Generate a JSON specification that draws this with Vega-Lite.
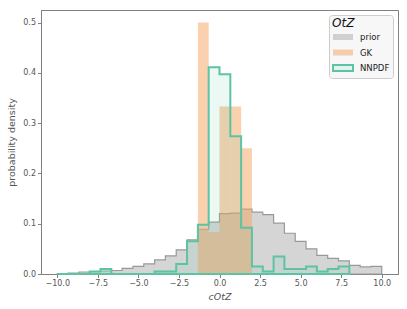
{
  "$schema": "https://vega.github.io/schema/vega-lite/v6.json",
  "width": 357,
  "height": 264,
  "autosize": {"type": "none"},
  "padding": {"left": 41, "top": 10, "right": 9, "bottom": 35},
  "config": {
    "font": "DejaVu Sans",
    "view": {"stroke": "#808080", "strokeWidth": 1},
    "axis": {
      "grid": false,
      "domainColor": "#808080",
      "tickColor": "#808080",
      "labelColor": "#555555",
      "titleColor": "#555555",
      "labelFontSize": 8,
      "titleFontSize": 9.5,
      "titleFontWeight": "normal",
      "tickSize": 3.5,
      "labelPadding": 2
    }
  },
  "data": {
    "values": [
      {"series": "prior", "lo": -10, "hi": -9.333, "density": 0.001},
      {"series": "prior", "lo": -9.333, "hi": -8.667, "density": 0.002},
      {"series": "prior", "lo": -8.667, "hi": -8, "density": 0.004},
      {"series": "prior", "lo": -8, "hi": -7.333, "density": 0.005},
      {"series": "prior", "lo": -7.333, "hi": -6.667, "density": 0.006},
      {"series": "prior", "lo": -6.667, "hi": -6, "density": 0.007},
      {"series": "prior", "lo": -6, "hi": -5.333, "density": 0.011},
      {"series": "prior", "lo": -5.333, "hi": -4.667, "density": 0.015},
      {"series": "prior", "lo": -4.667, "hi": -4, "density": 0.020},
      {"series": "prior", "lo": -4, "hi": -3.333, "density": 0.028},
      {"series": "prior", "lo": -3.333, "hi": -2.667, "density": 0.036},
      {"series": "prior", "lo": -2.667, "hi": -2, "density": 0.048},
      {"series": "prior", "lo": -2, "hi": -1.333, "density": 0.068},
      {"series": "prior", "lo": -1.333, "hi": -0.667, "density": 0.089},
      {"series": "prior", "lo": -0.667, "hi": 0, "density": 0.103},
      {"series": "prior", "lo": 0, "hi": 0.667, "density": 0.120},
      {"series": "prior", "lo": 0.667, "hi": 1.333, "density": 0.121},
      {"series": "prior", "lo": 1.333, "hi": 2, "density": 0.129},
      {"series": "prior", "lo": 2, "hi": 2.667, "density": 0.123},
      {"series": "prior", "lo": 2.667, "hi": 3.333, "density": 0.118},
      {"series": "prior", "lo": 3.333, "hi": 4, "density": 0.101},
      {"series": "prior", "lo": 4, "hi": 4.667, "density": 0.081},
      {"series": "prior", "lo": 4.667, "hi": 5.333, "density": 0.065},
      {"series": "prior", "lo": 5.333, "hi": 6, "density": 0.050},
      {"series": "prior", "lo": 6, "hi": 6.667, "density": 0.037},
      {"series": "prior", "lo": 6.667, "hi": 7.333, "density": 0.031},
      {"series": "prior", "lo": 7.333, "hi": 8, "density": 0.026},
      {"series": "prior", "lo": 8, "hi": 8.667, "density": 0.017},
      {"series": "prior", "lo": 8.667, "hi": 9.333, "density": 0.014},
      {"series": "prior", "lo": 9.333, "hi": 10, "density": 0.015},

      {"series": "GK", "lo": -1.333, "hi": -0.667, "density": 0.5},
      {"series": "GK", "lo": -0.667, "hi": 0, "density": 0.0833},
      {"series": "GK", "lo": 0, "hi": 0.667, "density": 0.3333},
      {"series": "GK", "lo": 0.667, "hi": 1.333, "density": 0.3333},
      {"series": "GK", "lo": 1.333, "hi": 2, "density": 0.25},

      {"series": "NNPDF", "lo": -10, "hi": -9.333, "density": 0},
      {"series": "NNPDF", "lo": -9.333, "hi": -8.667, "density": 0},
      {"series": "NNPDF", "lo": -8.667, "hi": -8, "density": 0},
      {"series": "NNPDF", "lo": -8, "hi": -7.333, "density": 0.005},
      {"series": "NNPDF", "lo": -7.333, "hi": -6.667, "density": 0.010},
      {"series": "NNPDF", "lo": -6.667, "hi": -6, "density": 0},
      {"series": "NNPDF", "lo": -6, "hi": -5.333, "density": 0},
      {"series": "NNPDF", "lo": -5.333, "hi": -4.667, "density": 0},
      {"series": "NNPDF", "lo": -4.667, "hi": -4, "density": 0},
      {"series": "NNPDF", "lo": -4, "hi": -3.333, "density": 0.005},
      {"series": "NNPDF", "lo": -3.333, "hi": -2.667, "density": 0.005},
      {"series": "NNPDF", "lo": -2.667, "hi": -2, "density": 0.020},
      {"series": "NNPDF", "lo": -2, "hi": -1.333, "density": 0.065},
      {"series": "NNPDF", "lo": -1.333, "hi": -0.667, "density": 0.098},
      {"series": "NNPDF", "lo": -0.667, "hi": 0, "density": 0.411},
      {"series": "NNPDF", "lo": 0, "hi": 0.667, "density": 0.397},
      {"series": "NNPDF", "lo": 0.667, "hi": 1.333, "density": 0.274},
      {"series": "NNPDF", "lo": 1.333, "hi": 2, "density": 0.092},
      {"series": "NNPDF", "lo": 2, "hi": 2.667, "density": 0.015},
      {"series": "NNPDF", "lo": 2.667, "hi": 3.333, "density": 0.005},
      {"series": "NNPDF", "lo": 3.333, "hi": 4, "density": 0.035},
      {"series": "NNPDF", "lo": 4, "hi": 4.667, "density": 0.010},
      {"series": "NNPDF", "lo": 4.667, "hi": 5.333, "density": 0.010},
      {"series": "NNPDF", "lo": 5.333, "hi": 6, "density": 0.015},
      {"series": "NNPDF", "lo": 6, "hi": 6.667, "density": 0.005},
      {"series": "NNPDF", "lo": 6.667, "hi": 7.333, "density": 0.010},
      {"series": "NNPDF", "lo": 7.333, "hi": 8, "density": 0.015}
    ]
  },
  "encoding": {
    "color": {
      "field": "series",
      "type": "nominal",
      "scale": {"domain": ["prior", "GK", "NNPDF"], "range": ["#888888", "#f4a460", "#5cc3a4"]},
      "legend": {
        "title": "OtZ",
        "orient": "top-right",
        "offset": 5,
        "titleFont": "DejaVu Sans",
        "titleFontStyle": "italic",
        "titleFontWeight": "normal",
        "titleFontSize": 12,
        "titleColor": "#111111",
        "titlePadding": 2,
        "labelFontSize": 8.5,
        "labelColor": "#222222",
        "labelOffset": 12,
        "symbolType": "M-2.5,-0.75H2.5V0.75H-2.5Z",
        "symbolSize": 64,
        "symbolOffset": 6,
        "symbolStrokeWidth": 1,
        "rowPadding": 1.5,
        "padding": 3,
        "fillColor": "#f7f7f7",
        "strokeColor": "#cccccc",
        "cornerRadius": 3,
        "encode": {
          "symbols": {
            "update": {
              "stroke": {"signal": "datum.value === 'NNPDF' ? '#5cc3a4' : 'transparent'"},
              "strokeWidth": {"value": 2},
              "opacity": {"value": 1},
              "fillOpacity": {"signal": "datum.value === 'prior' ? 0.35 : datum.value === 'GK' ? 0.5 : 0.12"}
            }
          }
        }
      }
    }
  },
  "layer": [
    {
      "transform": [
        {"filter": "datum.series === 'prior'"},
        {"fold": ["lo", "hi"], "as": ["key", "edge"]}
      ],
      "mark": {"type": "area", "fillOpacity": 0.35, "stroke": "#999999", "strokeWidth": 1.2, "strokeJoin": "miter"},
      "encoding": {
        "x": {
          "field": "edge", "type": "quantitative",
          "scale": {"domain": [-11, 11], "nice": false, "zero": false},
          "axis": {"values": [-10, -7.5, -5, -2.5, 0, 2.5, 5, 7.5, 10], "format": ".1f", "title": "cOtZ", "titleFontStyle": "italic", "titlePadding": 4}
        },
        "y": {
          "field": "density", "type": "quantitative", "stack": null,
          "scale": {"domain": [0, 0.525], "nice": false},
          "axis": {"values": [0, 0.1, 0.2, 0.3, 0.4, 0.5], "format": ".1f", "title": "probability density", "titlePadding": 6}
        },
        "order": [{"field": "edge", "type": "quantitative"}, {"field": "key", "type": "nominal"}]
      }
    },
    {
      "transform": [{"filter": "datum.series === 'GK'"}],
      "mark": {"type": "bar", "fillOpacity": 0.5},
      "encoding": {
        "x": {"field": "lo", "type": "quantitative"},
        "x2": {"field": "hi"},
        "y": {"field": "density", "type": "quantitative", "stack": null},
        "y2": {"datum": 0}
      }
    },
    {
      "transform": [
        {"filter": "datum.series === 'NNPDF'"},
        {"fold": ["lo", "hi"], "as": ["key", "edge"]}
      ],
      "mark": {"type": "area", "fillOpacity": 0.12, "stroke": "#5cc3a4", "strokeWidth": 2, "strokeJoin": "miter"},
      "encoding": {
        "x": {"field": "edge", "type": "quantitative"},
        "y": {"field": "density", "type": "quantitative", "stack": null},
        "order": [{"field": "edge", "type": "quantitative"}, {"field": "key", "type": "nominal"}]
      }
    }
  ]
}
